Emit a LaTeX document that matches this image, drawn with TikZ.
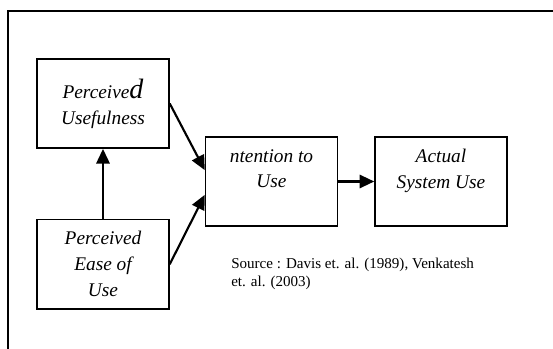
\documentclass[tikz,border=0pt]{standalone}
\usepackage{fontspec}
\setmainfont{Liberation Serif}
\usepackage{tikz}
\usetikzlibrary{positioning,arrows.meta}

\begin{document}
\begin{tikzpicture}[x=0.75pt,y=-0.75pt,line join=miter]
\tikzstyle{box} = [rectangle,draw=black,line width=1.1pt,fill=none,minimum width=99pt,minimum height=67pt,align=center,font=\fontsize{14.5}{19.5}\selectfont\itshape,inner sep=0pt]
\tikzstyle{link} = [line width=1.6pt,-{Triangle[length=11pt,width=10pt]}]

\useasboundingbox (0,0) rectangle (553,349);
\draw[line width=1pt] (553,11) -- (8,11) -- (8,349);

\node[box](pu) at (103,103.5)		{Perceive{\fontsize{21}{19.5}\selectfont d}\\Usefulness};
\node[box](peou)[below=52.5pt of pu]	{Perceived\\Ease of\\Use};
\node[box](itu) at (271.5,181.5)	{ntention to\\Use\\[-6pt]\strut};
\node[box](asu)[right=27pt of itu]	{Actual\\System Use\\[-6pt]\strut};

\draw [link] (peou) -- (pu);
\draw [link] (pu.east) -- ([yshift=8.5pt]itu.west);
\draw [link] (peou.east) -- ([yshift=-10pt]itu.west);
\draw [link] (itu) -- (asu);

\node(source)[anchor=base west,align=left,inner sep=0pt,font=\fontsize{11.3}{13.5}\selectfont] at (231,286)
	{Source : Davis et. al. (1989), Venkatesh\\et. al. (2003)};

\end{tikzpicture}
\end{document}
